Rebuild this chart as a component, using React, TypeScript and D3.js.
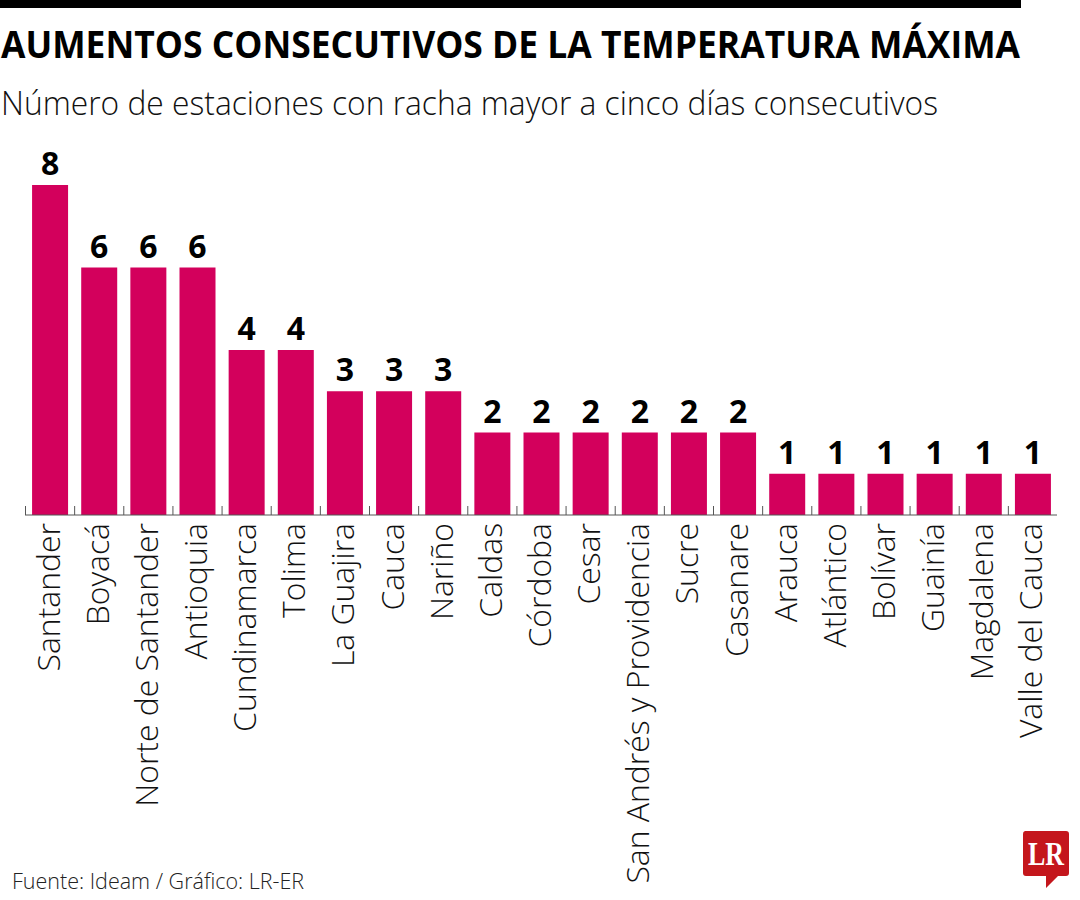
import React from "react";
import * as d3 from "d3";

const departments = [
  "Santander", "Boyacá", "Norte de Santander", "Antioquia", "Cundinamarca", "Tolima", "La Guajira",
  "Cauca", "Nariño", "Caldas", "Córdoba", "Cesar", "San Andrés y Providencia", "Sucre", "Casanare",
  "Arauca", "Atlántico", "Bolívar", "Guainía", "Magdalena", "Valle del Cauca",
];
const stations = [8, 6, 6, 6, 4, 4, 3, 3, 3, 2, 2, 2, 2, 2, 2, 1, 1, 1, 1, 1, 1];

const title = "AUMENTOS CONSECUTIVOS DE LA TEMPERATURA MÁXIMA";
const subtitle = "Número de estaciones con racha mayor a cinco días consecutivos";
const source = "Fuente: Ideam / Gráfico: LR-ER";

const font = "'Open Sans', sans-serif";

const x = d3
  .scaleBand<string>()
  .domain(departments)
  .range([25.5, 1057.5])
  .paddingInner(0.2675)
  .paddingOuter(0.13375);

const y = d3.scaleLinear().domain([0, 8]).range([515, 185]);

export default function App() {
  return (
    <svg
      width={1080}
      height={900}
      style={{ position: "absolute", left: 0, top: 0, background: "#fff" }}
      fontFamily={font}
    >
      <rect x={0} y={0} width={1021} height={8} fill="#000" />
      <text x={1} y={58} fontSize={37} fontWeight={700} fill="#000" textLength={1019} lengthAdjust="spacingAndGlyphs">
        {title}
      </text>
      <text x={1} y={115} fontSize={33} fontWeight={300} fill="#111" textLength={937} lengthAdjust="spacingAndGlyphs">
        {subtitle}
      </text>

      {departments.map((d, i) => (
        <g key={d}>
          <rect x={x(d)} y={y(stations[i])} width={x.bandwidth()} height={y(0) - y(stations[i])} fill="#d3005c" />
          <text
            x={x(d)! + x.bandwidth() / 2}
            y={y(stations[i]) - 10}
            textAnchor="middle"
            fontSize={32}
            fontWeight={700}
            fill="#000"
          >
            {stations[i]}
          </text>
          <line
            x1={x(d)! - x.step() * 0.13375}
            x2={x(d)! - x.step() * 0.13375}
            y1={506}
            y2={515}
            stroke="#555"
            strokeWidth={1}
          />
          <text
            transform={`translate(${x(d)! + x.bandwidth() / 2 + 9.5},523) rotate(-90)`}
            textAnchor="end"
            fontSize={31.9}
            fontWeight={300}
            fill="#111"
          >
            {d}
          </text>
        </g>
      ))}
      <line x1={25} x2={1057} y1={515} y2={515} stroke="#555" strokeWidth={1} />

      <text x={12} y={889} fontSize={21.5} fontWeight={300} fill="#222">
        {source}
      </text>

      <path d="M1025 831H1066a3 3 0 0 1 3 3V873a3 3 0 0 1-3 3H1058L1046 888V876H1026a3 3 0 0 1-3-3V834a3 3 0 0 1 2-3Z" fill="#c4161c" />
      <text x={1028} y={865} fontFamily="'Liberation Serif', serif" fontWeight={700} fontSize={33} fill="#fff" textLength={36} lengthAdjust="spacingAndGlyphs">
        LR
      </text>
    </svg>
  );
}
